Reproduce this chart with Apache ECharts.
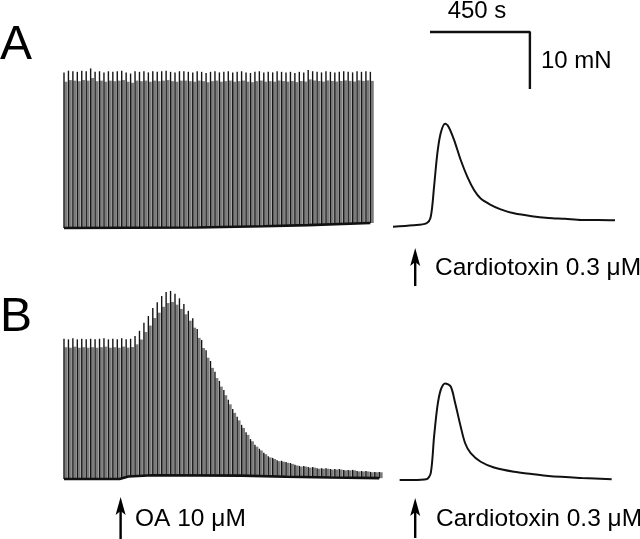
<!DOCTYPE html>
<html><head><meta charset="utf-8">
<script src="https://cdn.jsdelivr.net/npm/echarts@6/dist/echarts.min.js"></script>
<style>html,body{margin:0;padding:0;background:#fff}#c{width:640px;height:539px}</style>
</head><body><div id="c"></div>
<script>
// ---------------- DATA ----------------
var TWITCH_INTERVAL = 20; // s between electrically evoked twitches
// Panel A (control) twitch peak force, mN
var aPeak = [
 27.3,27.6,27.5,27.4,27.6,27.5,28.0,27.4,27.5,27.3,
 27.5,27.4,27.5,27.6,27.3,27.1,27.5,27.4,27.5,27.3,
 27.5,27.4,27.5,27.6,27.4,27.3,27.5,27.5,27.4,27.3,
 27.5,27.4,27.2,27.4,27.5,27.3,27.4,27.5,27.3,27.4,
 27.5,27.3,27.2,27.4,27.5,27.3,27.4,27.3,27.5,27.4,
 27.3,27.4,27.2,27.4,27.3,27.7,27.5,27.4,27.3,27.5,
 27.4,27.3,27.4,27.5,27.4,27.3,27.5,27.4,27.5,27.4
];
var aBaseT = [0, 600, 900, 1100, 1380];
var aBaseV = [0, 0.1, 0.3, 0.5, 0.88];
// Panel B (okadaic acid) twitch peak force, mN
var bPeak = [
 24.6,24.5,24.7,24.5,24.6,24.5,24.6,24.5,24.6,24.7,
 24.5,24.6,24.5,24.7,24.5,24.6,25.1,26.0,27.4,28.6,
 30.0,31.0,32.1,32.8,33.0,32.5,31.7,30.7,29.5,28.2,
 26.3,24.4,22.6,20.7,18.8,17.2,15.6,13.9,12.3,10.9,
 9.5,8.2,7.0,6.0,5.3,4.6,4.0,3.7,3.3,3.2,
 3.0,2.8,2.5,2.3,2.3,2.1,2.1,1.9,1.9,1.9,
 1.75,1.75,1.75,1.6,1.6,1.6,1.4,1.4,1.4,1.25,
 1.25,1.25
];
var bBaseT = [0, 250, 290, 400, 800, 1000, 1200, 1420];
var bBaseV = [0, 0, 0.45, 0.65, 0.6, 0.4, 0.25, 0.15];
// Cardiotoxin contractures (time s, force mN)
var aCtxT = [0,90,150,170,185,200,215,235,250,275,305,335,365,395,440,485,545,625,700,775,850,925,1000];
var aCtxV = [0.05,0.3,0.65,1.8,7.1,13.0,16.5,18.1,17.6,15.3,11.75,8.8,6.5,5.0,3.9,3.1,2.4,1.9,1.6,1.45,1.25,1.25,1.2];
var bCtxT = [30,90,150,170,185,200,215,235,260,280,305,325,350,395,455,545,625,700,850,985];
var bCtxV = [0,0,0.12,1.2,7.6,12.9,15.8,16.95,16.4,13.5,9.35,6.45,4.7,3.2,2.2,1.45,1.05,0.7,0.35,0.12];
var oaTime = 255;      // s, OA addition in panel B
var ctxTime = 100;     // s, cardiotoxin addition
var scaleT = 450, scaleF = 10;
var panelLabels = ['A', 'B'];
var oaLabel = 'OA 10 \u03bcM';
var ctxLabel = 'Cardiotoxin 0.3 \u03bcM';
var scaleLabels = ['450 s', '10 mN'];

// ---------------- LAYOUT ----------------
var PX_S = 0.222, PX_MN = 5.7;
var FONT = '"Liberation Sans", Arial, sans-serif';
function box(x0, tMin, tMax, y0, vMin, vMax) {
  return {left: x0 + tMin * PX_S, top: y0 - vMax * PX_MN,
          width: (tMax - tMin) * PX_S, height: (vMax - vMin) * PX_MN};
}
var G = [
  {x0: 64,  tMin: -10, tMax: 1410, y0: 228, vMin: -2, vMax: 30},
  {x0: 64,  tMin: -10, tMax: 1440, y0: 479, vMin: -2, vMax: 36},
  {x0: 393, tMin: -10, tMax: 1020, y0: 227, vMin: -2, vMax: 21},
  {x0: 393, tMin: -10, tMax: 1020, y0: 480, vMin: -2, vMax: 20},
  {x0: 430, tMin: -10, tMax: 460,  y0: 89,  vMin: -1, vMax: 11}
];
var grids = [], xAxes = [], yAxes = [];
G.forEach(function (g, k) {
  grids.push(box(g.x0, g.tMin, g.tMax, g.y0, g.vMin, g.vMax));
  xAxes.push({type: 'value', gridIndex: k, min: g.tMin, max: g.tMax, show: false});
  yAxes.push({type: 'value', gridIndex: k, min: g.vMin, max: g.vMax, show: false});
});

function zip(T, V) { return T.map(function (t, i) { return [t, V[i]]; }); }
function baseAt(T, V, t) {
  if (t <= T[0]) return V[0];
  for (var i = 1; i < T.length; i++) {
    if (t <= T[i]) { var f = (t - T[i-1]) / (T[i] - T[i-1]); return V[i-1] + f * (V[i] - V[i-1]); }
  }
  return V[V.length - 1];
}
function twitchRender(T, V) {
  return function (params, api) {
    var t = api.value(0), p = api.value(1);
    var b = baseAt(T, V, t);
    var pb = api.coord([t, b]), pp = api.coord([t, p]), pg = api.coord([t, b + (p - b) * 0.94]);
    return {type: 'group', children: [
      {type: 'rect', shape: {x: pb[0] + 0.4, y: pg[1], width: 3.0, height: pb[1] - pg[1]}, style: {fill: '#7c7c7c'}},
      {type: 'line', shape: {x1: pb[0], y1: pb[1], x2: pp[0], y2: pp[1]}, style: {stroke: '#151515', lineWidth: 1.4}}
    ]};
  };
}
function twitchData(P) { return P.map(function (p, i) { return [i * TWITCH_INTERVAL, p]; }); }
function traceLine(k, data, w, smooth) {
  return {type: 'line', xAxisIndex: k, yAxisIndex: k, data: data, showSymbol: false, symbol: 'none',
          smooth: smooth, clip: false, z: 3, animation: false,
          lineStyle: {color: '#111', width: w}};
}

var chart = echarts.init(document.getElementById('c'), null, {renderer: 'canvas'});
chart.setOption({
  backgroundColor: '#fff',
  animation: false,
  grid: grids, xAxis: xAxes, yAxis: yAxes,
  series: [
    {type: 'custom', xAxisIndex: 0, yAxisIndex: 0, data: twitchData(aPeak), renderItem: twitchRender(aBaseT, aBaseV), z: 2, animation: false},
    traceLine(0, zip(aBaseT, aBaseV), 2.6, false),
    {type: 'custom', xAxisIndex: 1, yAxisIndex: 1, data: twitchData(bPeak), renderItem: twitchRender(bBaseT, bBaseV), z: 2, animation: false},
    traceLine(1, zip(bBaseT, bBaseV), 2.6, false),
    traceLine(2, zip(aCtxT, aCtxV), 2, 0.3),
    traceLine(3, zip(bCtxT, bCtxV), 2, 0.3),
    traceLine(4, [[0, scaleF], [scaleT, scaleF], [scaleT, 0]], 2.4, false)
  ]
});

function px(k, t) { return chart.convertToPixel({xAxisIndex: k}, t); }
function arrow(x, yTop, yBot) {
  return {type: 'group', children: [
    {type: 'polygon', shape: {points: [[x, yTop], [x + 5, yTop + 18], [x, yTop + 14], [x - 5, yTop + 18]]}, style: {fill: '#000'}},
    {type: 'line', shape: {x1: x, y1: yTop + 10, x2: x, y2: yBot}, style: {stroke: '#000', lineWidth: 2.4}}
  ]};
}
function txt(s, x, y, size, align) {
  return {type: 'text', x: x, y: y, style: {text: s, font: size + 'px ' + FONT, fill: '#000',
          align: align || 'left', verticalAlign: 'middle'}};
}
var xOA = px(1, oaTime), xCa = px(2, ctxTime), xCb = px(3, ctxTime);
chart.setOption({graphic: [
  txt(panelLabels[0], 0, 46, 48),
  txt(panelLabels[1], 0, 318, 48),
  txt(scaleLabels[0], 477, 11, 24, 'center'),
  txt(scaleLabels[1], 541, 61, 24),
  arrow(xCa, 248, 286), txt(ctxLabel, 435, 268, 24.5),
  arrow(xCb, 498, 538), txt(ctxLabel, 436, 519, 24.5),
  arrow(xOA, 497, 539), txt(oaLabel, 135, 519, 24.5)
]});
</script></body></html>
